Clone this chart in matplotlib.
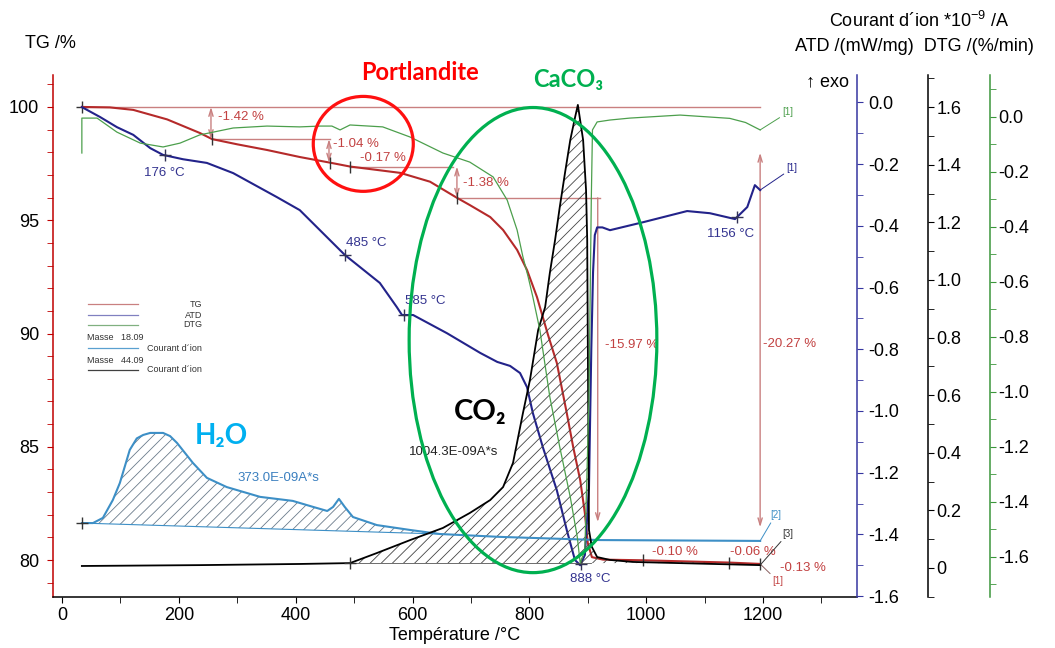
import numpy as np
import matplotlib
matplotlib.use("Agg")
import matplotlib.pyplot as plt
from matplotlib.patches import Ellipse
from matplotlib.ticker import MultipleLocator, FuncFormatter

plt.rcParams['font.family'] = ['Liberation Sans', 'DejaVu Sans']
plt.rcParams['axes.unicode_minus'] = False
plt.rcParams['hatch.linewidth'] = 0.6
plt.rcParams['mathtext.default'] = 'regular'

# TG /%
tg_T = [34, 82, 122, 180, 236, 257, 300, 351, 407, 459, 493, 579, 630, 676, 698, 733,
        755, 779, 796, 813, 832, 847, 864, 875, 887, 895, 900, 907, 926, 972, 995,
        1142, 1195]
tg_val = [100.0, 99.98, 99.87, 99.45, 98.85, 98.58, 98.35, 98.10, 97.79, 97.54, 97.37,
          97.09, 96.70, 95.99, 95.67, 95.14, 94.57, 93.69, 92.80, 91.61, 89.93, 88.70,
          86.49, 84.99, 83.53, 82.07, 80.75, 80.13, 80.02, 80.00, 79.99, 79.89, 79.83]

# mass loss steps (end temperature of each step, loss in %)
step_T = [257, 459, 493, 676, 921]
step_loss = [1.42, 1.04, 0.17, 1.38, 15.97]
tail_T = [995, 1142, 1195]
tail_loss = ['-0.10 %', '-0.06 %', '-0.13 %']
total_loss = 20.27

# ATD /(mW/mg)
atd_T = [34, 65, 94, 122, 151, 173, 207, 248, 293, 368, 407, 484, 544, 573, 582,
         601, 659, 716, 745, 767, 784, 796, 806, 823, 847, 864, 878, 887, 895,
         902, 906, 909, 912, 916, 925, 938, 995, 1070, 1109, 1152, 1173, 1186, 1195]
atd_val = [-0.015, -0.047, -0.080, -0.105, -0.148, -0.170, -0.184, -0.196, -0.229,
           -0.307, -0.349, -0.494, -0.585, -0.663, -0.689, -0.689, -0.748, -0.812,
           -0.841, -0.854, -0.877, -0.923, -1.007, -1.117, -1.257, -1.386, -1.483,
           -1.500, -1.467, -1.25, -0.80, -0.55, -0.43, -0.405, -0.405, -0.414,
           -0.388, -0.352, -0.359, -0.378, -0.339, -0.268, -0.284]
atd_peaks = [176, 485, 585, 888, 1156]

# DTG /(%/min)
dtg_T = [34, 34, 60, 94, 134, 173, 202, 236, 259, 293, 351, 407, 442, 462, 476,
         493, 549, 596, 652, 698, 738, 762, 779, 789, 798, 806, 818, 835, 852,
         870, 882, 887, 895, 902, 906, 908, 916, 938, 972, 1058, 1143, 1170, 1195]
dtg_val = [-0.131, -0.004, -0.004, -0.055, -0.095, -0.109, -0.095, -0.065, -0.055,
           -0.040, -0.033, -0.036, -0.033, -0.033, -0.047, -0.029, -0.036, -0.073,
           -0.131, -0.164, -0.218, -0.302, -0.411, -0.509, -0.582, -0.655, -0.775,
           -1.018, -1.200, -1.382, -1.527, -1.622, -1.575, -1.03, -0.30, -0.047,
           -0.018, -0.011, -0.004, 0.007, -0.005, -0.020, -0.047]

# ion current, mass 18 (H2O)
h2o_T = [34, 53, 70, 87, 99, 116, 128, 139, 151, 173, 185, 197, 224, 248, 282, 339,
         395, 430, 454, 464, 474, 484, 498, 539, 596, 647, 750, 921, 1195]
h2o_val = [0.156, 0.156, 0.174, 0.236, 0.295, 0.410, 0.450, 0.462, 0.469, 0.469, 0.458,
           0.434, 0.365, 0.313, 0.281, 0.247, 0.233, 0.212, 0.198, 0.212, 0.240, 0.212,
           0.177, 0.149, 0.132, 0.118, 0.108, 0.097, 0.094]
h2o_area = '373.0E-09A*s'

# ion current, mass 44 (CO2)
co2_T = [34, 236, 407, 493, 539, 596, 652, 698, 733, 755, 772, 789, 801, 815, 827,
         835, 844, 852, 861, 870, 878, 883, 892, 897, 899, 900, 902, 907, 916,
         938, 977, 1195]
co2_val = [0.007, 0.010, 0.014, 0.017, 0.052, 0.097, 0.139, 0.191, 0.236, 0.281,
           0.365, 0.538, 0.653, 0.826, 0.906, 1.024, 1.139, 1.253, 1.372, 1.486,
           1.563, 1.608, 1.486, 1.313, 1.139, 0.792, 0.132, 0.073, 0.038, 0.028,
           0.021, 0.010]
co2_area = '1004.3E-09A*s'

RED = '#b52a2a'
RED_TXT = '#c24141'
RED_LN = '#c98080'
BLUE = '#23238a'
BLUE_AX = '#3636a0'
GREEN = '#4c9f4c'
GREEN_AX = '#3c963c'
LBLUE = '#3d8fc6'

fig = plt.figure(figsize=(10.55, 6.48), dpi=100)
ax = fig.add_axes([53 / 1055, 51 / 648, 804 / 1055, 522 / 648])
ax_atd = ax.twinx()
ax_ion = ax.twinx()
ax_dtg = ax.twinx()

ax.set_xlim(-15.4, 1360.8)
ax.set_ylim(78.37, 101.41)
ax_atd.set_ylim(-1.603, 0.089)
ax_ion.set_ylim(-0.1007, 1.7118)
ax_dtg.set_ylim(-1.7455, 0.1527)

for a in (ax_atd, ax_ion, ax_dtg):
    for s in ('left', 'top', 'bottom'):
        a.spines[s].set_visible(False)
ax.spines['top'].set_visible(False)
ax.spines['right'].set_visible(False)
ax.spines['left'].set_color('#c00000')
ax_atd.spines['right'].set_color(BLUE_AX)
ax_ion.spines['right'].set_color('black')
ax_dtg.spines['right'].set_color(GREEN_AX)
ax_ion.spines['right'].set_position(('axes', 1.0883))
ax_dtg.spines['right'].set_position(('axes', 1.1654))
for a in (ax, ax_atd, ax_ion, ax_dtg):
    for s in a.spines.values():
        s.set_linewidth(1.1)

fmt1 = FuncFormatter(lambda v, p: f'{round(v, 1) + 0.0:.1f}')
fmt_ion = FuncFormatter(lambda v, p: '0' if abs(v) < 1e-9 else f'{v:.1f}')

ax.xaxis.set_major_locator(MultipleLocator(200))
ax.xaxis.set_minor_locator(MultipleLocator(100))
ax.yaxis.set_major_locator(MultipleLocator(5))
ax.yaxis.set_minor_locator(MultipleLocator(1))
ax.tick_params(axis='x', which='both', direction='out', length=4, pad=3, labelsize=13)
ax.tick_params(axis='y', which='both', direction='out', length=4, pad=6,
               color='#c00000', labelsize=13)
for a, col, pad in ((ax_atd, BLUE_AX, 4), (ax_ion, 'black', 2), (ax_dtg, GREEN_AX, 2)):
    a.yaxis.set_major_locator(MultipleLocator(0.2))
    a.yaxis.set_minor_locator(MultipleLocator(0.1))
    a.tick_params(axis='y', which='both', direction='out', length=4, pad=pad,
                  color=col, labelsize=13)
ax_atd.yaxis.set_major_formatter(fmt1)
ax_dtg.yaxis.set_major_formatter(fmt1)
ax_ion.yaxis.set_major_formatter(fmt_ion)
ax_atd.set_yticks(np.arange(-1.6, 0.01, 0.2))
ax_dtg.set_yticks(np.arange(-1.6, 0.01, 0.2))
ax_ion.set_yticks(np.arange(0, 1.61, 0.2))

ax.set_xlabel('Température /°C', fontsize=13, labelpad=2)

# hatched integration areas of the ion currents
h2o_T_a = np.array(h2o_T)
h2o_v_a = np.array(h2o_val)
m = h2o_T_a <= 647
h2o_end = h2o_val[h2o_T.index(647)]
base = np.interp(h2o_T_a[m], [h2o_T[0], 647], [h2o_val[0], h2o_end])
ax_ion.fill_between(h2o_T_a[m], base, h2o_v_a[m], facecolor='none', edgecolor='#6b7b8b',
                    hatch='///', linewidth=0)
ax_ion.plot([h2o_T[0], 647], [h2o_val[0], h2o_end], color=LBLUE, lw=0.8)

co2_T_a = np.array(co2_T)
co2_v_a = np.array(co2_val)
b0 = co2_val[co2_T.index(493)]
m = co2_T_a >= 493
ax_ion.fill_between(co2_T_a[m], b0, np.maximum(co2_v_a[m], b0), facecolor='none',
                    edgecolor='#444444', hatch='///', linewidth=0)
ax_ion.plot([493, 905], [b0, b0], color='#555555', lw=0.6)

# curves
ax.plot(tg_T, tg_val, color=RED, lw=1.5, zorder=3)
ax_atd.plot(atd_T, atd_val, color=BLUE, lw=1.5)
ax_dtg.plot(dtg_T, dtg_val, color=GREEN, lw=0.9)
ax_ion.plot(h2o_T, h2o_val, color=LBLUE, lw=1.5)
ax_ion.plot(co2_T, co2_val, color='black', lw=1.3)

# TG step evaluation
levels = 100 - np.cumsum(step_loss)
ax.plot([tg_T[0], 1195], [100, 100], color=RED_LN, lw=1.0)
ax.plot([step_T[0], step_T[1]], [levels[0], levels[0]], color=RED_LN, lw=1.0)
ax.plot([step_T[2], 669], [levels[2], levels[2]], color=RED_LN, lw=1.0)
ax.plot([step_T[3], step_T[4]], [levels[3], levels[3]], color=RED_LN, lw=1.0)
arrow = dict(arrowstyle='<->,head_length=0.5,head_width=0.15', color=RED_LN, lw=1.0,
             shrinkA=0, shrinkB=0)
ax.annotate('', xy=(255, levels[0]), xytext=(255, 100), arrowprops=arrow)
ax.annotate('', xy=(457, levels[1]), xytext=(457, levels[0]), arrowprops=arrow)
ax.annotate('', xy=(676, levels[3]), xytext=(676, levels[2]), arrowprops=arrow)
ax.annotate('', xy=(917, levels[4]), xytext=(917, levels[3]),
            arrowprops=dict(arrow, arrowstyle='->,head_length=0.5,head_width=0.15',
                            shrinkB=27))
ax.annotate('', xy=(1195, 100 - total_loss), xytext=(1195, 100),
            arrowprops=dict(arrow, shrinkA=33, shrinkB=28))

mk_T = step_T[:4] + tail_T
ax.plot(mk_T, np.interp(mk_T, tg_T, tg_val), ls='none', marker='|', ms=9,
        mew=1.0, color='#333333', zorder=4)
ax.plot([tg_T[0]], [tg_val[0]], ls='none', marker='+', ms=9, mew=1.0, color='#333333')
ax_ion.plot([h2o_T[0], 493], [h2o_val[0], b0], ls='none', marker='+', ms=9, mew=1.0,
            color='#333333')
ax_atd.plot(atd_peaks, np.interp(atd_peaks, atd_T, atd_val), ls='none', marker='+',
            ms=8, mew=1.0, color='#333355')

rt = dict(color=RED_TXT, fontsize=9.5)
ax.text(267, 99.56, '-1.42 %', va='center', **rt)
ax.text(464, 98.37, '-1.04 %', va='center', **rt)
ax.text(510, 97.75, '-0.17 %', va='center', **rt)
ax.text(686, 96.64, '-1.38 %', va='center', **rt)
ax.text(929, 89.49, '-15.97 %', va='center', **rt)
ax.text(1200, 89.54, f'-{total_loss:.2f} %', va='center', **rt)
ax.text(1010, 80.35, tail_loss[0], va='center', **rt)
ax.text(1143, 80.35, tail_loss[1], va='center', **rt)
ax.text(1229, 79.65, tail_loss[2], va='center', clip_on=False, **rt)

bt = dict(color='#33338f', fontsize=9.5, ha='center', va='center')
for t, (x, y) in zip(atd_peaks, [(175, 97.09), (520, 94.0), (621, 91.43), (905, 79.16),
                                  (1145, 94.39)]):
    ax.text(x, y, f'{t} °C', **bt)

ax.text(371, 83.62, h2o_area, color='#3a7fbf', fontsize=9.5, ha='center', va='center')
ax.text(671, 84.77, co2_area, color='#222222', fontsize=9.5, ha='center', va='center')

# curve end tags
lk = dict(arrowstyle='-', lw=0.7, shrinkA=0, shrinkB=0)
ax_dtg.annotate('[1]', xy=(dtg_T[-1], dtg_val[-1]), xytext=(16, 9), textcoords='offset points',
                color=GREEN, fontsize=7, va='bottom', arrowprops=dict(lk, color=GREEN))
ax_atd.annotate('[1]', xy=(atd_T[-1], atd_val[-1]), xytext=(19, 12), textcoords='offset points',
                color=BLUE, fontsize=7, va='bottom', arrowprops=dict(lk, color=BLUE))
ax_ion.annotate('[2]', xy=(h2o_T[-1], h2o_val[-1]), xytext=(7, 15), textcoords='offset points',
                color=LBLUE, fontsize=7, va='bottom', arrowprops=dict(lk, color=LBLUE))
ax_ion.annotate('[3]', xy=(co2_T[-1], co2_val[-1]), xytext=(16, 19), textcoords='offset points',
                color='#333333', fontsize=7, va='bottom', arrowprops=dict(lk, color='#333333'))
ax.annotate('[1]', xy=(tg_T[-1], tg_val[-1]), xytext=(9, -9), textcoords='offset points',
            color=RED_TXT, fontsize=7, va='top', arrowprops=dict(lk, color='#8a6060'))

# legend
lg = [('TG', RED_LN, 0.5613), ('ATD', '#8080c0', 0.5402), ('DTG', '#80b080', 0.5211),
      ('Courant d´ion', '#5aa0d0', 0.4770), ('Courant d´ion', '#404040', 0.4349)]
for name, col, y in lg:
    ax.plot([0.0435, 0.1057], [y, y], color=col, lw=0.9, transform=ax.transAxes)
    ax.text(0.1853, y, name, transform=ax.transAxes, ha='right', va='center',
            fontsize=6.5, color='#333333')
ax.text(0.0423, 0.4962, 'Masse   18.09', transform=ax.transAxes, va='center',
        fontsize=6.5, color='#333333')
ax.text(0.0423, 0.4540, 'Masse   44.09', transform=ax.transAxes, va='center',
        fontsize=6.5, color='#333333')

# axis titles
fig.text(0.0237, 0.9336, 'TG /%', fontsize=13, va='center')
fig.text(0.8716, 0.9676, r'Courant d´ion *10$^{-9}$ /A', fontsize=13, ha='center', va='center')
fig.text(0.8668, 0.929, 'ATD /(mW/mg)  DTG /(%/min)', fontsize=13, ha='center', va='center')
fig.text(0.7844, 0.8735, '↑ exo', fontsize=13, ha='center', va='center')

# highlighted regions
top = ax_dtg
top.add_patch(Ellipse((515.7, 98.37), 171.2, 4.19, transform=ax.transData, fill=False,
                      edgecolor='#ff1010', lw=2.3, clip_on=False, zorder=5))
top.add_patch(Ellipse((806.2, 89.71), 424.0, 20.53, transform=ax.transData, fill=False,
                      edgecolor='#00b050', lw=2.3, clip_on=False, zorder=5))
hl = ['Lato', 'DejaVu Sans']
top.text(613, 101.5, 'Portlandite', transform=ax.transData, color='#ff0000', fontsize=17,
         fontweight='bold', family=hl, ha='center', va='center', clip_on=False)
top.text(866, 101.19, 'CaCO₃', transform=ax.transData, color='#00b050', fontsize=17,
         fontweight='bold', family=hl, ha='center', va='center', clip_on=False)
top.text(272, 85.47, 'H₂O', transform=ax.transData, color='#00b0f0', fontsize=20,
         fontweight='bold', family=hl, ha='center', va='center')
top.text(715.5, 86.53, 'CO₂', transform=ax.transData, color='black', fontsize=21,
         fontweight='bold', family=hl, ha='center', va='center')

fig.savefig('out.png', dpi=100, facecolor='white')
